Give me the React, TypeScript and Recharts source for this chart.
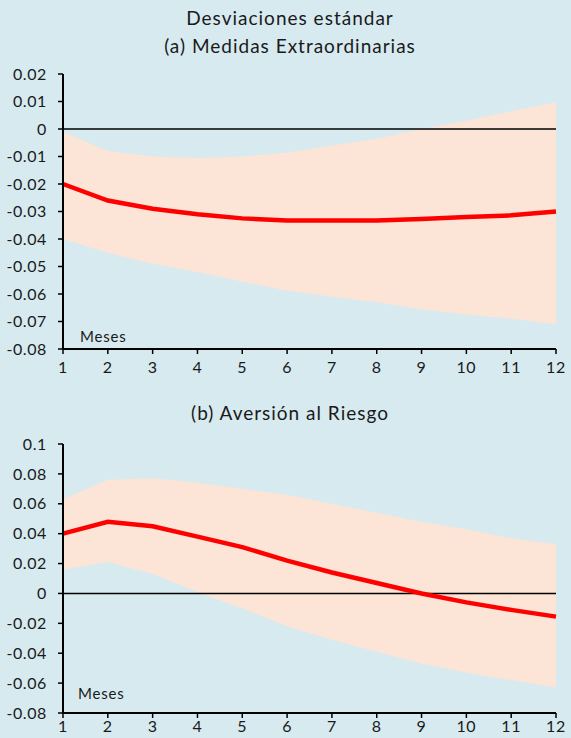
import React from "react";
import { ComposedChart, Area, Line, XAxis, YAxis, ReferenceLine } from "recharts";

const months = [1, 2, 3, 4, 5, 6, 7, 8, 9, 10, 11, 12];

// (a) Medidas Extraordinarias
const medianA = [-0.02, -0.026, -0.029, -0.031, -0.0325, -0.0333, -0.0333, -0.0333, -0.0327, -0.032, -0.0314, -0.030];
const upperA = [-0.001, -0.008, -0.010, -0.0105, -0.010, -0.0085, -0.006, -0.0035, 0.0, 0.003, 0.0065, 0.0097];
const lowerA = [-0.040, -0.045, -0.049, -0.052, -0.0555, -0.0588, -0.061, -0.063, -0.0655, -0.0675, -0.069, -0.071];
const ticksA = [0.02, 0.01, 0, -0.01, -0.02, -0.03, -0.04, -0.05, -0.06, -0.07, -0.08];

// (b) Aversión al Riesgo
const medianB = [0.040, 0.048, 0.045, 0.038, 0.031, 0.022, 0.014, 0.007, 0.0, -0.006, -0.011, -0.0155];
const upperB = [0.063, 0.076, 0.077, 0.074, 0.070, 0.066, 0.060, 0.054, 0.048, 0.043, 0.037, 0.033];
const lowerB = [0.016, 0.021, 0.013, 0.001, -0.010, -0.022, -0.031, -0.039, -0.047, -0.053, -0.058, -0.063];
const ticksB = [0.1, 0.08, 0.06, 0.04, 0.02, 0, -0.02, -0.04, -0.06, -0.08];

const BG = "#d7eaf0";
const BAND = "#fce4d6";
const FONT = "Lato, 'Open Sans', sans-serif";

function build(median: number[], lower: number[], upper: number[]) {
  return months.map((m, i) => ({ m, v: median[i], band: [lower[i], upper[i]] }));
}

const tickStyle = { fontSize: 16, fill: "#1a1a1a", fontFamily: FONT, letterSpacing: 0.6 };

function Panel({ data, ticks, top, height, plotTop, plotBottom, xMargin }: any) {
  const domain = [ticks[ticks.length - 1], ticks[0]];
  return (
    <div style={{ position: "absolute", left: 0, top }}>
      <ComposedChart
        width={571}
        height={height}
        data={data}
        margin={{ top: plotTop, right: 15, left: 0, bottom: height - plotBottom - 26 }}
      >
        <XAxis
          dataKey="m"
          type="number"
          domain={[1, 12]}
          ticks={months}
          tick={tickStyle}
          tickLine={{ stroke: "#000", strokeWidth: 1.5 }}
          axisLine={{ stroke: "#000", strokeWidth: 2 }}
          tickSize={5}
          tickMargin={xMargin}
          height={26}
          interval={0}
        />
        <YAxis
          type="number"
          domain={domain}
          ticks={ticks}
          tick={tickStyle}
          tickLine={{ stroke: "#000", strokeWidth: 1.5 }}
          axisLine={{ stroke: "#000", strokeWidth: 2 }}
          tickSize={5}
          tickMargin={11}
          width={63}
          interval={0}
          allowDataOverflow
        />
        <Area
          dataKey="band"
          stroke="none"
          fill={BAND}
          fillOpacity={1}
          isAnimationActive={false}
        />
        <ReferenceLine y={0} stroke="#000" strokeWidth={1.5} />
        <Line
          dataKey="v"
          stroke="#ff0000"
          strokeWidth={4.5}
          dot={false}
          isAnimationActive={false}
        />
      </ComposedChart>
    </div>
  );
}

const titleStyle: React.CSSProperties = {
  position: "absolute",
  left: 20,
  width: 540,
  textAlign: "center",
  fontFamily: FONT,
  fontSize: 19,
  color: "#1a1a1a",
  letterSpacing: 1,
  lineHeight: "22px",
};

const mesesStyle: React.CSSProperties = {
  position: "absolute",
  fontFamily: FONT,
  fontSize: 15,
  letterSpacing: 0.8,
  color: "#1a1a1a",
  lineHeight: "18px",
};

export default function App() {
  return (
    <div
      style={{
        position: "fixed",
        left: 0,
        top: 0,
        width: 571,
        height: 738,
        background: BG,
        overflow: "hidden",
      }}
    >
      <div style={{ ...titleStyle, top: 7 }}>Desviaciones estándar</div>
      <div style={{ ...titleStyle, top: 35 }}>(a) Medidas Extraordinarias</div>
      <Panel data={build(medianA, lowerA, upperA)} ticks={ticksA} top={0} height={380} plotTop={74} plotBottom={349} xMargin={8} />
      <div style={{ ...mesesStyle, left: 80, top: 327 }}>Meses</div>

      <div style={{ ...titleStyle, top: 402 }}>(b) Aversión al Riesgo</div>
      <Panel data={build(medianB, lowerB, upperB)} ticks={ticksB} top={380} height={358} plotTop={64} plotBottom={333} xMargin={3} />
      <div style={{ ...mesesStyle, left: 78, top: 684 }}>Meses</div>
    </div>
  );
}
